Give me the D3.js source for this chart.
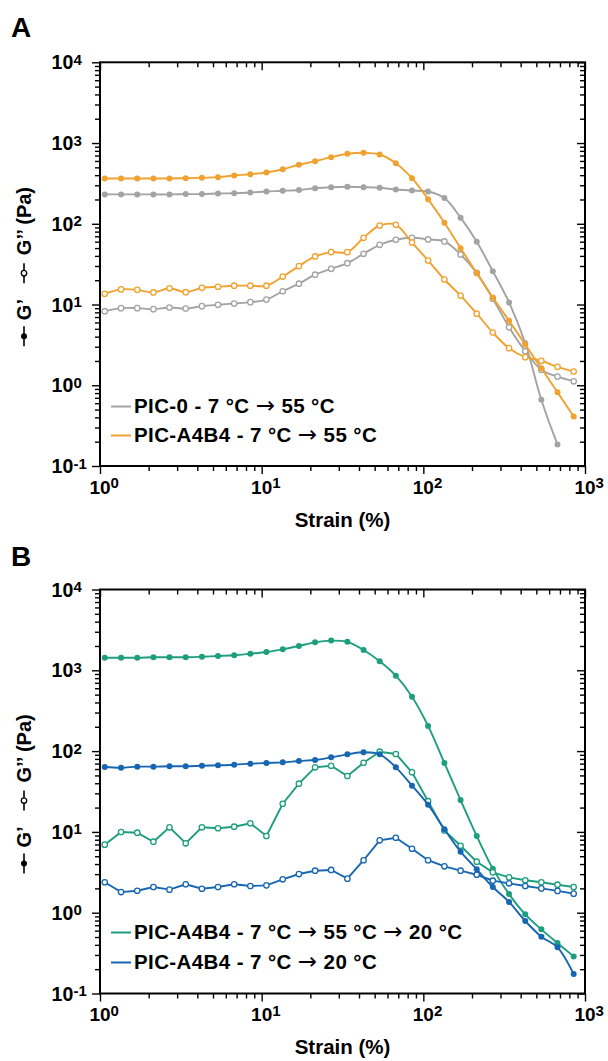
<!DOCTYPE html>
<html><head><meta charset="utf-8">
<script src="https://cdn.jsdelivr.net/npm/d3@7"></script>
<style>
html,body{margin:0;padding:0;background:#fff;}
svg{display:block;font-family:"Liberation Sans",Arial,sans-serif;font-weight:bold;}
</style></head>
<body><svg id="c" width="608" height="1061"></svg>
<script>
// Strain (%) sample points
const strain = [1.07,1.35,1.70,2.14,2.69,3.39,4.27,5.37,6.76,8.51,10.7,13.5,17.0,21.4,26.9,33.9,42.7,53.7,67.6,85.1,107,135,170,214,269,339,427,537,676,851];

// Panel A
const pic0_Gp  = [231,231,231,231,231,233,233,237,239,244,251,256,262,276,284,287,284,279,266,258,251,208,119,59.8,25.9,10.6,3.32,0.66,0.185];
const pic0_Gpp = [8.27,9.02,9.02,8.76,9.19,8.93,9.54,9.93,10.3,10.7,11.5,14.6,18.1,23.4,27.7,32.5,42.5,54.9,63.4,67.1,64.0,60.4,41.7,24.7,11.8,5.24,2.64,1.56,1.28,1.12];
const a4b4_Gp  = [364,364,364,364,364,367,372,378,396,411,431,474,538,596,668,736,757,721,563,367,202,103,49.9,24.4,12.2,6.3,3.2,1.62,0.82,0.41];
const a4b4_Gpp = [13.6,15.4,15.2,14.1,15.9,14.2,16.1,16.6,17.1,17.1,17.1,22.2,29.9,39.4,44.5,44.5,67.1,95.2,97.1,58.6,35.1,20.4,12.9,7.7,4.5,2.88,2.23,2.01,1.69,1.48];

// Panel B
const heat_Gp  = [1432,1432,1432,1449,1449,1449,1473,1503,1534,1604,1683,1818,1999,2218,2330,2250,1783,1291,857,471,205,71.3,24.8,8.9,3.51,1.70,0.955,0.622,0.421,0.288];
const heat_Gpp = [6.95,9.97,9.78,7.56,11.4,7.23,11.4,11.1,11.6,12.8,8.9,22.3,39.5,63,65.9,49.2,71.8,98.3,92.1,54.7,24,10.4,6.74,4.28,3.16,2.74,2.52,2.38,2.22,2.08];
const cold_Gp  = [63.6,62.3,64.2,64.2,64.9,64.9,65.9,66.7,67.9,69.9,71.3,72.6,75.4,77.6,83.7,91.2,96.6,91.2,63,37.3,21.7,10.8,5.69,3.44,2.08,1.36,0.789,0.505,0.373,0.174];
const cold_Gpp = [2.38,1.80,1.87,2.08,1.93,2.25,1.98,2.08,2.25,2.14,2.18,2.59,3.01,3.31,3.38,2.64,4.46,7.87,8.47,6.19,4.46,3.75,3.31,2.95,2.49,2.31,2.14,2.00,1.86,1.72];

const legendA = ["PIC-0 - 7 °C → 55 °C", "PIC-A4B4 - 7 °C → 55 °C"];
const legendB = ["PIC-A4B4 - 7 °C → 55 °C → 20 °C", "PIC-A4B4 - 7 °C → 20 °C"];

const xMajor = [1,10,100,1000];
const yMajor = [0.1,1,10,100,1000,10000];

const GRAY = "#a3a3a3", ORANGE = "#f0a230", GREEN = "#1f9e7f", BLUE = "#1766b1";

const svg = d3.select("#c");

function minorTicks(lo, hi){
  const out=[];
  for(let e=Math.log10(lo); e<Math.log10(hi); e++){
    for(let m=2;m<=9;m++) out.push(m*Math.pow(10,e));
  }
  return out;
}

function panel(cfg){
  const L=100, R=585, T=cfg.top, B=cfg.bottom;
  const x = d3.scaleLog().domain([1,1000]).range([L,R]);
  const y = d3.scaleLog().domain([0.1,10000]).range([B,T]);
  const g = svg.append("g");

  // ticks (all point left / down, as in reference)
  const xMin = minorTicks(1,1000), yMin = minorTicks(0.1,10000);
  const mk = (axis, tr, vals, size) => {
    const a = g.append("g").attr("transform", tr)
      .call(axis.tickValues(vals).tickSize(size).tickSizeOuter(0).tickFormat(""));
    a.select(".domain").remove();
    a.selectAll(".tick line").attr("stroke","#000").attr("stroke-width",1.4);
  };
  mk(d3.axisBottom(x), `translate(0,${B})`, xMajor, 8);
  mk(d3.axisBottom(x), `translate(0,${B})`, xMin, 5);
  mk(d3.axisBottom(x), `translate(0,${T})`, xMajor, 8);
  mk(d3.axisBottom(x), `translate(0,${T})`, xMin, 5);
  mk(d3.axisLeft(y), `translate(${L},0)`, yMajor, 8);
  mk(d3.axisLeft(y), `translate(${L},0)`, yMin, 5);
  mk(d3.axisLeft(y), `translate(${R},0)`, yMajor, 8);
  mk(d3.axisLeft(y), `translate(${R},0)`, yMin, 5);

  g.append("rect").attr("x",L).attr("y",T).attr("width",R-L).attr("height",B-T)
    .attr("fill","none").attr("stroke","#000").attr("stroke-width",2);

  // tick labels
  xMajor.forEach(v=>{
    const e = Math.round(Math.log10(v));
    g.append("text").attr("x",x(v)).attr("y",B+27.5).attr("text-anchor","middle")
      .attr("font-size",19).text("10");
    g.append("text").attr("x",x(v)+10.6).attr("y",B+22).attr("font-size",15).text(String(e));
  });
  yMajor.forEach(v=>{
    const e = Math.round(Math.log10(v));
    g.append("text").attr("x",73.3).attr("y",y(v)+7).attr("text-anchor","end")
      .attr("font-size",19.5).text("10");
    g.append("text").attr("x",73.6).attr("y",y(v)+2.5).attr("font-size",15).text(String(e));
  });

  // axis titles
  g.append("text").attr("x",(L+R)/2).attr("y",B+60.5).attr("text-anchor","middle")
    .attr("font-size",20.5).text("Strain (%)");
  const c = (T+B)/2;
  const yl = g.append("g").attr("transform",`translate(31,${c}) rotate(-90)`);
  yl.append("line").attr("x1",-82).attr("x2",-62).attr("y1",-7).attr("y2",-7).attr("stroke","#000").attr("stroke-width",1.6);
  yl.append("circle").attr("cx",-72).attr("cy",-7).attr("r",3).attr("fill","#000");
  yl.append("text").attr("x",-56).attr("y",0).attr("font-size",20).text("G’");
  yl.append("line").attr("x1",-19).attr("x2",1).attr("y1",-7).attr("y2",-7).attr("stroke","#000").attr("stroke-width",1.6);
  yl.append("circle").attr("cx",-9).attr("cy",-7).attr("r",2.7).attr("fill","#fff").attr("stroke","#000").attr("stroke-width",1.3);
  yl.append("text").attr("x",9).attr("y",0).attr("font-size",20).text("G’’ (Pa)");

  // panel letter
  g.append("text").attr("x",11).attr("y",cfg.letterY).attr("font-size",28).text(cfg.letter);

  // series
  cfg.series.forEach(s=>{
    [["gp",true],["gpp",false]].forEach(([k,filled])=>{
      const vals = s[k];
      const pts = vals.map((v,i)=>[strain[i],v]);
      const curve = (!filled && cfg.openLinear) ? d3.curveLinear : d3.curveCatmullRom.alpha(0.5);
      const line = d3.line().x(d=>x(d[0])).y(d=>y(d[1])).curve(curve);
      g.append("path").attr("d",line(pts)).attr("fill","none").attr("stroke",s.color).attr("stroke-width",1.9);
      g.selectAll(null).data(pts).enter().append("circle")
        .attr("cx",d=>x(d[0])).attr("cy",d=>y(d[1]))
        .attr("r",filled?3:2.7)
        .attr("fill",filled?s.color:"#fff")
        .attr("stroke",s.color).attr("stroke-width",filled?0:1.3);
    });
  });

  // legend
  cfg.legend.forEach((t,i)=>{
    const ly = cfg.legendY + i*cfg.legendGap;
    g.append("line").attr("x1",111).attr("x2",131).attr("y1",ly).attr("y2",ly)
      .attr("stroke",cfg.series[i].color).attr("stroke-width",2);
    const tx = g.append("text").attr("x",134).attr("y",ly+6).attr("font-size",20.5).attr("letter-spacing",0.4);
    t.split("→").forEach((part,j)=>{
      if(j>0) tx.append("tspan").attr("font-family","DejaVu Sans").attr("font-weight","normal")
        .attr("font-size",23).text("→");
      tx.append("tspan").text(part);
    });
  });
}

panel({top:62.3,bottom:466,letter:"A",letterY:37,legendY:406.5,legendGap:29,openLinear:false,
  legend:legendA,
  series:[{color:GRAY,gp:pic0_Gp,gpp:pic0_Gpp},{color:ORANGE,gp:a4b4_Gp,gpp:a4b4_Gpp}]});
panel({top:589.5,bottom:993.5,letter:"B",letterY:566,legendY:932.5,legendGap:30,openLinear:true,
  legend:legendB,
  series:[{color:GREEN,gp:heat_Gp,gpp:heat_Gpp},{color:BLUE,gp:cold_Gp,gpp:cold_Gpp}]});
</script></body></html>
